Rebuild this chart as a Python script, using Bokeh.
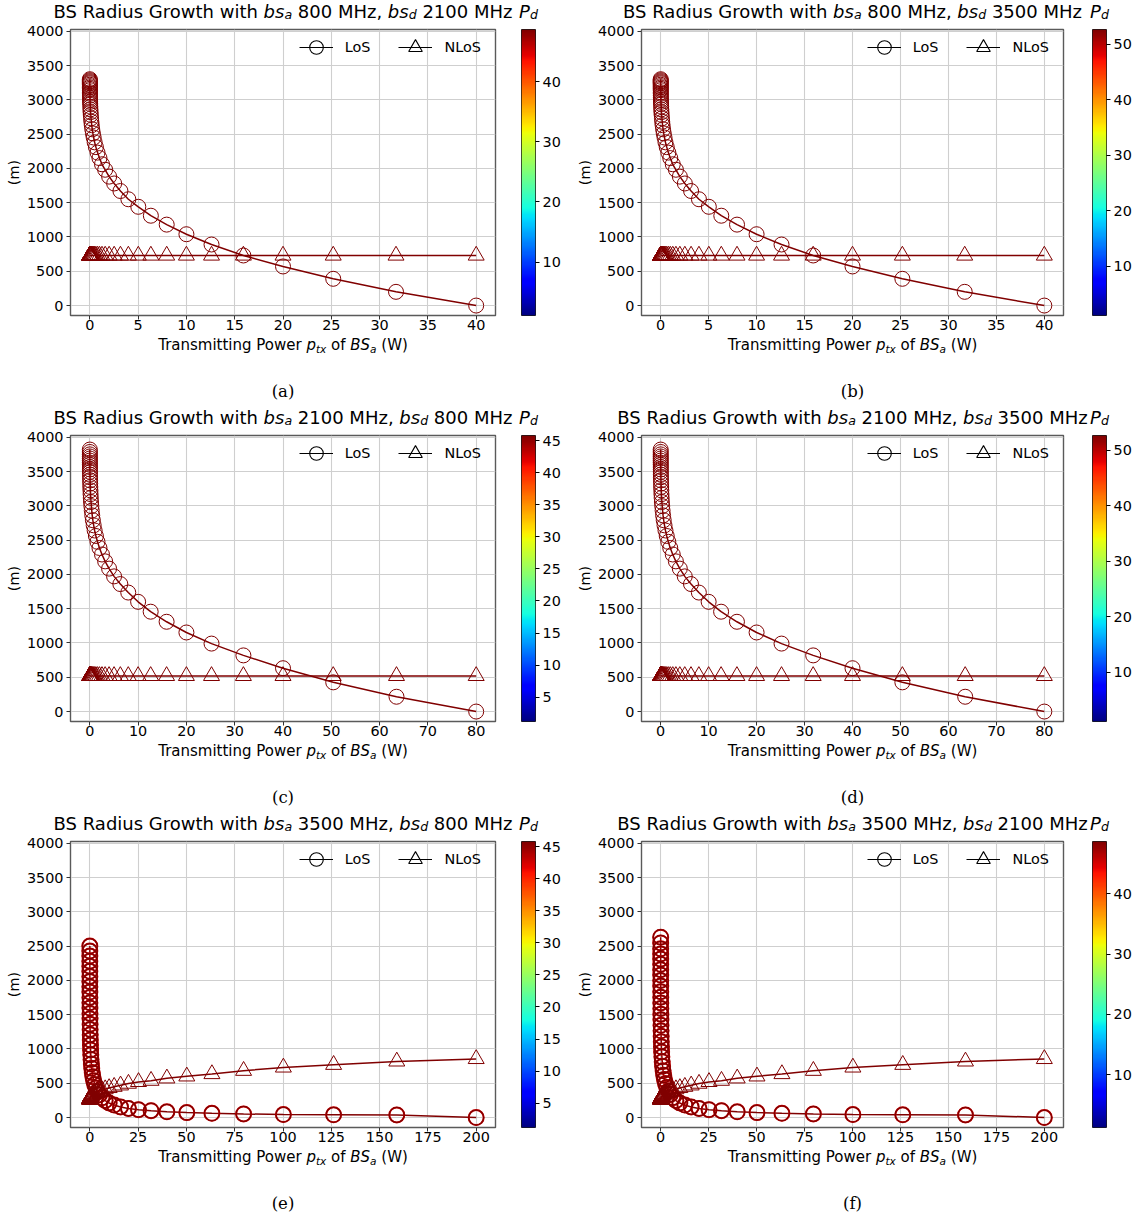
import glob
import os
import numpy as np
from bokeh.plotting import figure
from bokeh.models import (Label, LinearColorMapper, FixedTicker, Legend, LegendItem, Range1d)
from bokeh.layouts import column, row
from bokeh.embed import file_html
from bokeh.resources import INLINE

# ---------------------------------------------------------------- data
# transmitting power of BS_a (W), 1 dB steps, panels (a),(b)
x_800 = [40.0, 31.7, 25.2, 20.0, 15.9, 12.6, 10.0, 7.96, 6.32, 5.02,
         3.99, 3.17, 2.52, 2.0, 1.59, 1.26, 1.0, 0.8, 0.63, 0.5,
         0.4, 0.32, 0.25, 0.2, 0.16, 0.13, 0.1, 0.08, 0.063, 0.05,
         0.04, 0.032, 0.025, 0.02, 0.016, 0.013, 0.01, 0.008, 0.0063, 0.005,
         0.004, 0.0032, 0.0025, 0.002, 0.0016, 0.0013, 0.001]
los_800 = [0, 200, 390, 570, 730, 890, 1040, 1180, 1310, 1440,
           1550, 1670, 1780, 1880, 1980, 2060, 2150, 2230, 2310, 2380,
           2450, 2510, 2570, 2630, 2680, 2730, 2780, 2820, 2860, 2900,
           2940, 2970, 3000, 3030, 3060, 3090, 3110, 3140, 3160, 3180,
           3200, 3220, 3240, 3255, 3270, 3285, 3300]
nlos_800 = [730, 730, 730, 730, 730, 730, 730, 730, 730, 730,
            730, 730, 730, 730, 730, 730, 730, 730, 730, 730,
            730, 730, 730, 730, 730, 730, 730, 730, 730, 730,
            730, 730, 730, 730, 730, 730, 730, 730, 730, 730,
            730, 730, 730, 730, 730, 730, 730]

# panels (c),(d)
x_2100 = [80.0, 63.5, 50.4, 40.0, 31.8, 25.2, 20.0, 15.9, 12.6, 10.0,
          7.96, 6.32, 5.02, 3.99, 3.17, 2.52, 2.0, 1.59, 1.26, 1.0,
          0.8, 0.63, 0.5, 0.4, 0.32, 0.25, 0.2, 0.16, 0.13, 0.1,
          0.08, 0.063, 0.05, 0.04, 0.032, 0.025, 0.02, 0.016, 0.013, 0.01,
          0.008, 0.0063, 0.005, 0.004, 0.0032]
los_2100 = [0, 216, 426, 632, 819, 991, 1153, 1309, 1456, 1600,
            1735, 1859, 1971, 2084, 2190, 2290, 2385, 2475, 2560, 2640,
            2715, 2790, 2860, 2930, 2995, 3055, 3115, 3170, 3225, 3275,
            3325, 3370, 3415, 3455, 3495, 3530, 3565, 3600, 3630, 3660,
            3690, 3720, 3750, 3785, 3820]
nlos_2100 = [520, 520, 520, 520, 520, 520, 520, 520, 520, 520,
             520, 520, 520, 520, 520, 520, 520, 520, 520, 520,
             520, 520, 520, 520, 520, 520, 520, 520, 520, 520,
             520, 520, 520, 520, 520, 520, 520, 520, 520, 520,
             520, 520, 520, 520, 520]

# panels (e),(f)
x_3500 = [200.0, 158.9, 126.2, 100.2, 79.6, 63.2, 50.2, 39.9, 31.7, 25.2,
          20.0, 15.9, 12.6, 10.0, 7.96, 6.32, 5.02, 3.99, 3.17, 2.52,
          2.0, 1.59, 1.26, 1.0, 0.8, 0.63, 0.5, 0.4, 0.32, 0.25,
          0.2, 0.16, 0.13, 0.1, 0.08, 0.063, 0.05, 0.04, 0.032, 0.025,
          0.02, 0.016, 0.013, 0.01, 0.008, 0.0063, 0.005, 0.004]
los_3500_e = [0, 38, 40, 43, 53, 62, 72, 84, 100, 115,
              132, 155, 182, 212, 248, 288, 332, 380, 430, 482,
              538, 596, 656, 718, 782, 848, 916, 986, 1058, 1132,
              1208, 1284, 1362, 1440, 1518, 1596, 1674, 1752, 1830, 1906,
              1982, 2058, 2132, 2206, 2280, 2354, 2428, 2500]
los_3500_f = [0, 38, 40, 43, 53, 62, 72, 84, 100, 115,
              132, 155, 182, 212, 248, 290, 336, 386, 440, 496,
              555, 617, 681, 747, 815, 885, 957, 1031, 1107, 1185,
              1265, 1345, 1426, 1508, 1590, 1672, 1754, 1836, 1918, 1998,
              2078, 2156, 2234, 2310, 2386, 2460, 2546, 2630]
nlos_3500 = [855, 819, 770, 731, 683, 635, 601, 572, 538, 520,
             495, 470, 450, 432, 415, 400, 386, 374, 363, 353,
             344, 336, 329, 322, 316, 311, 306, 301, 297, 293,
             290, 287, 284, 281, 279, 277, 275, 273, 271, 270,
             268, 267, 266, 265, 264, 263, 262, 261]

y_ticks = [0, 500, 1000, 1500, 2000, 2500, 3000, 3500, 4000]
x_ticks_40 = [0, 5, 10, 15, 20, 25, 30, 35, 40]
x_ticks_80 = [0, 10, 20, 30, 40, 50, 60, 70, 80]
x_ticks_200 = [0, 25, 50, 75, 100, 125, 150, 175, 200]
cb_ticks_10 = [10, 20, 30, 40, 50]
cb_ticks_5 = [5, 10, 15, 20, 25, 30, 35, 40, 45]
pd_range_a = (1.1, 48.7)
pd_range_b = (1.1, 52.7)
pd_range_c = (1.2, 45.8)
pd_range_f = (1.2, 48.7)

# ---------------------------------------------------------------- styling
def jet_palette(n=256):
    t = np.linspace(0, 1, n)
    r = np.interp(t, [0, 0.35, 0.66, 0.89, 1], [0, 0, 1, 1, 0.5])
    g = np.interp(t, [0, 0.125, 0.375, 0.64, 0.91, 1], [0, 0, 1, 1, 0, 0])
    b = np.interp(t, [0, 0.11, 0.34, 0.65, 1], [0.5, 1, 1, 0, 0])
    return ["#%02x%02x%02x" % (int(round(a * 255)), int(round(c * 255)), int(round(d * 255)))
            for a, c, d in zip(r, g, b)]

JET = jet_palette()
MARK = JET[-1]
HALO = JET[238]
FONT = "DejaVu Sans"
SERIF = "DejaVu Serif"
TS = 18.0   # title size
LS = 14.4   # tick / legend size
XS = 15.0   # x label size
NAN = float("nan")
BASE_FIX = 0.36   # baseline correction of rendered labels (fraction of font size)

def _find(name):
    for d in ["/usr/share/fonts", "/usr/local/share/fonts", os.path.expanduser("~/.fonts")]:
        hits = glob.glob(os.path.join(d, "**", name), recursive=True)
        if hits:
            return hits[0]
    return None

try:
    from PIL import ImageFont
    _FILES = {(False, "sans"): _find("DejaVuSans.ttf"),
              (True, "sans"): _find("DejaVuSans-Oblique.ttf"),
              (False, "serif"): _find("DejaVuSerif.ttf")}
except Exception:
    ImageFont = None
    _FILES = {}
_cache = {}

def text_w(s, size, italic=False, fam="sans"):
    path = _FILES.get((italic, fam))
    if path and ImageFont is not None:
        try:
            if path not in _cache:
                _cache[path] = ImageFont.truetype(path, 100)
            return _cache[path].getlength(s) * size / 100.0
        except Exception:
            pass
    return (0.62 if not italic else 0.6) * size * len(s)

# page geometry
ROW_H = [406, 406, 404]
PANEL_X = [0, 570]
PANEL_W = [570, 568]
FRAME_L = [70, 641]
FRAME_R = [495, 1063]
CB_L = [521, 1092]
CB_W = 14
TOP_H = 22          # title strip
MAIN_MBT = 7
FRAME_H = 286
MAIN_MBB = 21
Y_LO, Y_HI = -145, 4025


def strip(width, height):
    s = figure(width=width, height=height, x_range=Range1d(0, width),
               y_range=Range1d(height, 0), x_axis_type=None, y_axis_type=None,
               min_border=0, toolbar_location=None, output_backend="svg", title=None)
    s.outline_line_color = None
    s.background_fill_color = "white"
    s.border_fill_color = "white"
    return s


def put(fig, x, y, text, size, italic=False, fam=FONT, align="left"):
    fig.add_layout(Label(x=x, y=y - BASE_FIX * size, text=text, text_font=fam,
                         text_font_size=f"{size}px",
                         text_font_style="italic" if italic else "normal",
                         text_align=align, text_baseline="alphabetic", text_color="black"))


def rich(fig, cx, y, pieces):
    total = sum(text_w(t, s, it) for t, s, it, dy in pieces)
    x = cx - total / 2.0
    for t, s, it, dy in pieces:
        core = t.strip()
        lead = t[:len(t) - len(t.lstrip())]
        put(fig, x + text_w(lead, s, it), y + dy, core, s, italic=it)
        x += text_w(t, s, it)


def make_panel(c, r, letter, fa, fd, xs, los, nlos, x_ticks, x_hi, pd_rng, cb_ticks, halo=False):
    px0 = PANEL_X[c]
    pw = PANEL_W[c]
    fl, fr, cbl = FRAME_L[c], FRAME_R[c], CB_L[c]
    main_h = MAIN_MBT + FRAME_H + MAIN_MBB
    bottom_h = ROW_H[r] - TOP_H - main_h

    # ---- main plot
    mx = x_hi * 0.05
    p = figure(width=cbl - px0, height=main_h, x_range=Range1d(-mx, x_hi + mx),
               y_range=Range1d(Y_LO, Y_HI), output_backend="svg",
               toolbar_location=None, title=None,
               min_border_left=fl - px0, min_border_right=cbl - fr,
               min_border_top=MAIN_MBT, min_border_bottom=MAIN_MBB)
    p.background_fill_color = "white"
    p.border_fill_color = "white"
    p.outline_line_color = "#5a5a5a"
    p.outline_line_width = 1.4
    p.xaxis.ticker = FixedTicker(ticks=x_ticks)
    p.yaxis.ticker = FixedTicker(ticks=y_ticks)
    for ax in (p.xaxis, p.yaxis):
        ax.axis_line_color = None
        ax.major_tick_in = 0
        ax.major_tick_out = 4
        ax.minor_tick_line_color = None
        ax.major_tick_line_color = "#333333"
        ax.major_label_text_font = FONT
        ax.major_label_text_font_size = f"{LS}px"
        ax.major_label_text_color = "black"
    p.xaxis.major_label_standoff = 0
    p.yaxis.major_label_standoff = 3
    p.yaxis.axis_label = "(m)"
    p.yaxis.axis_label_text_font = FONT
    p.yaxis.axis_label_text_font_size = f"{LS}px"
    p.yaxis.axis_label_text_font_style = "normal"
    p.yaxis.axis_label_text_color = "black"
    p.yaxis.axis_label_standoff = 2
    p.grid.grid_line_color = "#cfcfcf"
    p.grid.grid_line_width = 1.1

    n1 = min(len(xs), len(los))
    n2 = min(len(xs), len(nlos))
    p.line(xs[:n1], los[:n1], line_color=MARK, line_width=1.5)
    p.line(xs[:n2], nlos[:n2], line_color=MARK, line_width=1.5)
    if halo:
        p.scatter(xs[:n1], los[:n1], marker="circle", size=15, fill_color=None,
                  line_color=HALO, line_width=2.0)
    p.scatter(xs[:n1], los[:n1], marker="circle", size=15, fill_color=None,
              line_color=MARK, line_width=1.3 if halo else 1.0)
    p.scatter(xs[:n2], nlos[:n2], marker="triangle", size=16, fill_color=None,
              line_color=MARK, line_width=1.0)

    # legend proxies (black, never visible in the frame)
    l1 = p.line(x=[NAN], y=[NAN], line_color="black", line_width=1.2)
    m1 = p.scatter(x=[NAN], y=[NAN], marker="circle", fill_color=None, line_color="black", line_width=1.1)
    l2 = p.line(x=[NAN], y=[NAN], line_color="black", line_width=1.2)
    m2 = p.scatter(x=[NAN], y=[NAN], marker="triangle", fill_color=None, line_color="black", line_width=1.1)
    gw, st, sp = 34, 12, 28
    leg_w = gw + st + text_w("LoS", LS) + sp + gw + st + text_w("NLoS", LS)
    frame_w = fr - fl
    legend = Legend(items=[LegendItem(label="LoS", renderers=[l1, m1]),
                           LegendItem(label="NLoS", renderers=[l2, m2])],
                    orientation="horizontal",
                    location=(frame_w - 14 - leg_w, FRAME_H - 1 - gw),
                    glyph_width=gw, glyph_height=gw, label_standoff=st, spacing=sp,
                    padding=0, margin=0, border_line_color=None,
                    background_fill_alpha=0, label_text_font=FONT,
                    label_text_font_size=f"{LS}px", label_text_color="black")
    p.add_layout(legend)

    # ---- colour bar as its own small plot
    low, high = pd_rng
    mapper = LinearColorMapper(palette=JET, low=low, high=high)
    cbw = px0 + pw - cbl
    cb = figure(width=cbw, height=main_h, x_range=Range1d(0, 1), y_range=Range1d(low, high),
                x_axis_type=None, y_axis_location="right", output_backend="svg",
                toolbar_location=None, title=None, min_border_left=0,
                min_border_right=cbw - CB_W, min_border_top=MAIN_MBT,
                min_border_bottom=MAIN_MBB)
    cb.image(image=[np.linspace(low, high, 256).reshape(256, 1)], x=0, y=low, dw=1,
             dh=high - low, color_mapper=mapper)
    cb.grid.visible = False
    cb.outline_line_color = "black"
    cb.outline_line_width = 0.9
    cb.background_fill_color = "white"
    cb.border_fill_color = "white"
    cb.yaxis.ticker = FixedTicker(ticks=cb_ticks)
    cb.yaxis.axis_line_color = None
    cb.yaxis.major_tick_in = 0
    cb.yaxis.major_tick_out = 4
    cb.yaxis.minor_tick_line_color = None
    cb.yaxis.major_tick_line_color = "black"
    cb.yaxis.major_label_standoff = 3
    cb.yaxis.major_label_text_font = FONT
    cb.yaxis.major_label_text_font_size = f"{LS}px"
    cb.yaxis.major_label_text_color = "black"

    # ---- title strip
    top = strip(pw, TOP_H)
    cx = (fl + fr) / 2.0 - px0
    sub_t = TS * 0.7
    sub_x = XS * 0.7
    base_t = 17.6
    drop = 1.3
    rich(top, cx, base_t, [("BS Radius Growth with ", TS, False, 0), ("bs", TS, True, 0),
                           ("a", sub_t, True, drop), (f" {fa} MHz, ", TS, False, 0),
                           ("bs", TS, True, 0), ("d", sub_t, True, drop),
                           (f" {fd} MHz", TS, False, 0)])
    rich(top, cbl + CB_W / 2.0 - px0, base_t, [("P", TS, True, 0), ("d", sub_t, True, drop)])

    # ---- bottom strip: x label and caption
    bot = strip(pw, bottom_h)
    rich(bot, cx, 14.0, [("Transmitting Power ", XS, False, 0), ("p", XS, True, 0),
                         ("tx", sub_x, True, 2.5), (" of ", XS, False, 0),
                         ("BS", XS, True, 0), ("a", sub_x, True, 2.5),
                         (" (W)", XS, False, 0)])
    put(bot, cx, 60.7, f"({letter})", 16.5, fam=SERIF, align="center")

    return column(top, row(p, cb), bot)


pa = make_panel(0, 0, "a", 800, 2100, x_800, los_800, nlos_800, x_ticks_40, 40, pd_range_a, cb_ticks_10)
pb = make_panel(1, 0, "b", 800, 3500, x_800, los_800, nlos_800, x_ticks_40, 40, pd_range_b, cb_ticks_10)
pc = make_panel(0, 1, "c", 2100, 800, x_2100, los_2100, nlos_2100, x_ticks_80, 80, pd_range_c, cb_ticks_5)
pd_ = make_panel(1, 1, "d", 2100, 3500, x_2100, los_2100, nlos_2100, x_ticks_80, 80, pd_range_b, cb_ticks_10)
pe = make_panel(0, 2, "e", 3500, 800, x_3500, los_3500_e, nlos_3500, x_ticks_200, 200, pd_range_c, cb_ticks_5, halo=True)
pf = make_panel(1, 2, "f", 3500, 2100, x_3500, los_3500_f, nlos_3500, x_ticks_200, 200, pd_range_f, cb_ticks_10, halo=True)

layout = column(row(pa, pb), row(pc, pd_), row(pe, pf))
open("out.html", "w").write(file_html(layout, INLINE))
